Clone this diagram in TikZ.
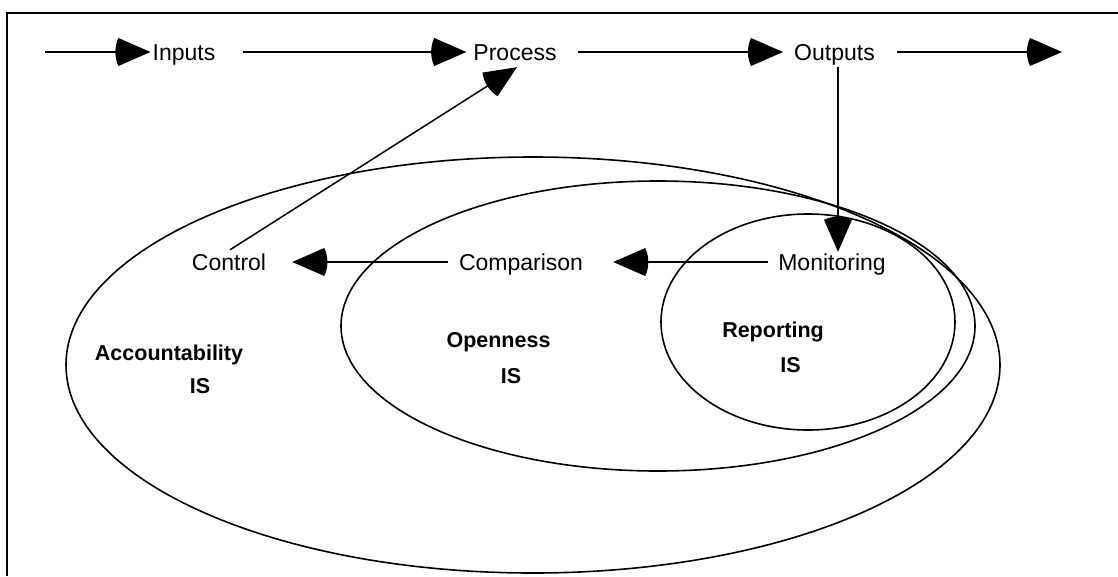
\documentclass[tikz,border=0pt]{standalone}
\usepackage{fontspec}
\setmainfont{Liberation Sans}
\usetikzlibrary{arrows.meta}
\pgfdeclarearrow{
  name = WordTri,
  setup code = {
    \pgfarrowssettipend{\pgfarrowlength}
    \pgfarrowssetlineend{.5\pgfarrowlength}
    \pgfarrowssetvisualbackend{-.1\pgfarrowlength}
    \pgfarrowssetbackend{-.1\pgfarrowlength}
    \pgfarrowssavethe\pgfarrowlength
    \pgfarrowssavethe\pgfarrowwidth
  },
  drawing code = {
    \pgfpathmoveto{\pgfqpoint{\pgfarrowlength}{0pt}}
    \pgfpathlineto{\pgfqpoint{0pt}{.5\pgfarrowwidth}}
    \pgfpathcurveto{\pgfqpoint{-.13\pgfarrowlength}{.2\pgfarrowwidth}}{\pgfqpoint{-.13\pgfarrowlength}{-.2\pgfarrowwidth}}{\pgfqpoint{0pt}{-.5\pgfarrowwidth}}
    \pgfpathclose
    \pgfusepathqfill
  },
  parameters = {\the\pgfarrowlength,\the\pgfarrowwidth},
  defaults = {length = 32pt, width = 28pt}
}
\tikzset{
  lbl/.style={font=\fontsize{23}{27}\selectfont, inner sep=0pt, text height=16pt, text depth=0pt, anchor=base},
  blbl/.style={font=\fontsize{21.5}{25}\selectfont\bfseries, inner sep=0pt, anchor=base},
  conn/.style={line width=1.5pt, -{WordTri[length=32pt,width=28pt]}},
  ring/.style={line width=1.6pt},
  frame/.style={line width=1.7pt}
}
\begin{document}
\begin{tikzpicture}[x=1pt,y=-1pt]
\useasboundingbox (0,0) rectangle (1118,576);
\draw[frame] (7,576) -- (7,13) -- (1118,13);

% rings
\draw[ring] (533,365) ellipse [x radius=467pt, y radius=208pt];
\draw[ring] (658,326) ellipse [x radius=317pt, y radius=145pt];
\draw[ring] (808,322) ellipse [x radius=147pt, y radius=108pt];

% labels
\node[lbl] (Inputs) at (184,60) {Inputs};
\node[lbl] (Process) at (515,60) {Process};
\node[lbl] (Outputs) at (834.5,60) {Outputs};
\node[lbl] (Control) at (229,270) {Control};
\node[lbl] (Comparison) at (521,270) {Comparison};
\node[lbl] (Monitoring) at (832,270) {Monitoring};

\node[blbl] (Acc) at (169,360) {Accountability};
\node[blbl] (AccIS) at (200,393) {IS};
\node[blbl] (Open) at (498.5,347) {Openness};
\node[blbl] (OpenIS) at (511,383) {IS};
\node[blbl] (Rep) at (773,337) {Reporting};
\node[blbl] (RepIS) at (790.5,372) {IS};

\coordinate (start) at (45,52);
\coordinate (finish) at (1062,52);

% connectors
\draw[conn] (start) -- ([xshift=-2pt]Inputs.west);
\draw[conn] ([xshift=27pt]Inputs.east) -- ([xshift=-7pt]Process.west);
\draw[conn] ([xshift=21pt]Process.east) -- ([xshift=-11pt]Outputs.west);
\draw[conn] ([xshift=22pt]Outputs.east) -- (finish);
\draw[conn] ([shift={(3.5pt,-7pt)}]Outputs.south) -- ([shift={(6pt,2pt)}]Monitoring.north);
\draw[conn] ([shift={(1pt,4pt)}]Control.north) -- ([shift={(2pt,-7pt)}]Process.south);
\draw[conn] ([xshift=-11pt]Comparison.west) -- ([xshift=26pt]Control.east);
\draw[conn] ([xshift=-10pt]Monitoring.west) -- ([xshift=30pt]Comparison.east);
\end{tikzpicture}
\end{document}
